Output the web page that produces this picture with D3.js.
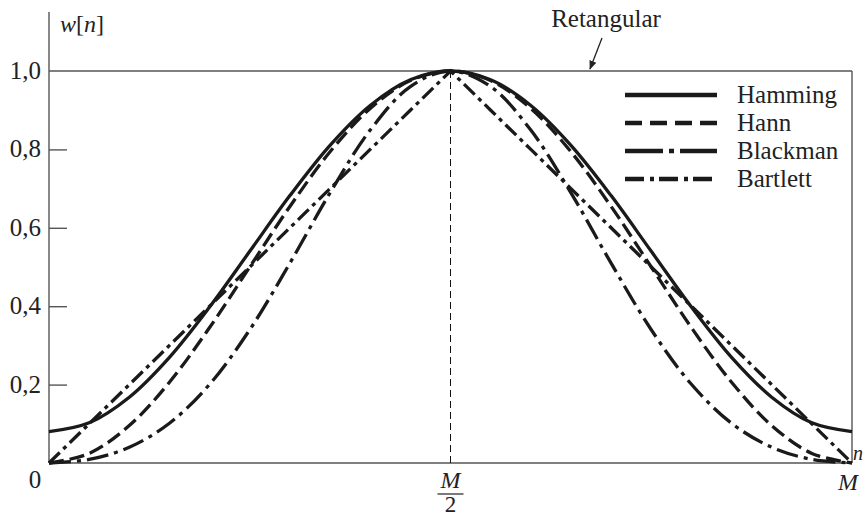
<!DOCTYPE html>
<html><head><meta charset="utf-8">
<script src="https://cdn.jsdelivr.net/npm/d3@7"></script>
<style>
body{margin:0;background:#fff;}
svg text{font-family:"Liberation Serif","DejaVu Serif","Times New Roman",Times,serif;fill:#222;}
</style></head>
<body><svg id="c" width="865" height="517"></svg>
<script>
// sample index n = 0..20 (M = 20)
const nIndex = [0,1,2,3,4,5,6,7,8,9,10,11,12,13,14,15,16,17,18,19,20];
const hamming = [0.08,0.1025,0.1679,0.2696,0.3979,0.54,0.6821,0.8104,0.9121,0.9775,1.0,0.9775,0.9121,0.8104,0.6821,0.54,0.3979,0.2696,0.1679,0.1025,0.08];
const hann = [0,0.0245,0.0955,0.2061,0.3455,0.5,0.6545,0.7939,0.9045,0.9755,1.0,0.9755,0.9045,0.7939,0.6545,0.5,0.3455,0.2061,0.0955,0.0245,0];
const blackman = [0,0.0092,0.0402,0.1014,0.2008,0.34,0.5098,0.6892,0.8492,0.9603,1.0,0.9603,0.8492,0.6892,0.5098,0.34,0.2008,0.1014,0.0402,0.0092,0];
const bartlett = [0,0.1,0.2,0.3,0.4,0.5,0.6,0.7,0.8,0.9,1.0,0.9,0.8,0.7,0.6,0.5,0.4,0.3,0.2,0.1,0];
const rectangular = [1,1];
const seriesNames = ["Hamming","Hann","Blackman","Bartlett"];
const yTicks = [0.2,0.4,0.6,0.8];
const yTickLabels = ["0,2","0,4","0,6","0,8"];

const FONT = "'Liberation Serif','DejaVu Serif','Times New Roman',serif";
const svg = d3.select("#c");
const x = d3.scaleLinear().domain([0,20]).range([49,852]);
const y = d3.scaleLinear().domain([0,1]).range([463,71]);
const axisColor = "#555";
function txt(px,py,s,size,anchor,italic){
  return svg.append("text").attr("x",px).attr("y",py).attr("font-family",FONT)
    .attr("font-size",size).attr("text-anchor",anchor||"start")
    .attr("font-style",italic?"italic":"normal").attr("fill","#222").text(s);
}

// axes
svg.append("line").attr("x1",49).attr("x2",49).attr("y1",12).attr("y2",y(0)).attr("stroke",axisColor).attr("stroke-width",1.4);
svg.append("line").attr("x1",49).attr("x2",x(20)).attr("y1",y(0)).attr("y2",y(0)).attr("stroke",axisColor).attr("stroke-width",1.4);
// rectangular window (box)
svg.append("line").attr("x1",x(0)).attr("x2",x(20)).attr("y1",y(rectangular[0])).attr("y2",y(rectangular[1])).attr("stroke",axisColor).attr("stroke-width",1.4);
svg.append("line").attr("x1",x(20)).attr("x2",x(20)).attr("y1",y(1)).attr("y2",y(0)).attr("stroke",axisColor).attr("stroke-width",1.4);

// y ticks inward
const yAxis = d3.axisRight(y).tickValues(yTicks).tickSize(18).tickFormat("");
const ga = svg.append("g").attr("transform","translate(49,0)").call(yAxis);
ga.select(".domain").remove();
ga.selectAll("line").attr("stroke",axisColor).attr("stroke-width",1.4);
yTicks.forEach((d,i)=>txt(41,y(d)+8,yTickLabels[i],25,"end"));
txt(41,y(1)+8,"1,0",25,"end");
txt(35,488,"0",25,"middle");

// y label
const wl = svg.append("text").attr("x",60).attr("y",32).attr("font-size",24).attr("font-family",FONT).attr("fill","#222");
wl.append("tspan").attr("font-style","italic").text("w");
wl.append("tspan").text("[");
wl.append("tspan").attr("font-style","italic").text("n");
wl.append("tspan").text("]");

// M/2 dashed line
svg.append("line").attr("x1",x(10)).attr("x2",x(10)).attr("y1",y(1)).attr("y2",y(0))
  .attr("stroke","#111").attr("stroke-width",1).attr("stroke-dasharray","7,4");
txt(x(10),488,"M",24,"middle",true);
svg.append("line").attr("x1",x(10)-13).attr("x2",x(10)+13).attr("y1",494).attr("y2",494).attr("stroke","#222").attr("stroke-width",1.2);
txt(x(10),512,"2",23,"middle");
txt(x(20)-4,490,"M",24,"middle",true);
txt(853,460,"n",20,"start",true);

// curves
const smooth = d3.line().x((d,i)=>x(nIndex[i])).y(d=>y(d)).curve(d3.curveCatmullRom);
const straight = d3.line().x((d,i)=>x(nIndex[i])).y(d=>y(d));
const dashes = ["", "15,6", "22,6,4,6", "15,5,4,5"];
const legendDashes = ["", "17,8", "38,6,5,6", "19,6,4,5"];
const data = [hamming, hann, blackman, bartlett];
data.forEach((s,k)=>{
  svg.append("path").attr("d",(k===3?straight:smooth)(s)).attr("fill","none")
    .attr("stroke","#1a1a1a").attr("stroke-width",3.3).attr("stroke-dasharray",dashes[k]||null);
});

// legend
seriesNames.forEach((name,i)=>{
  const yy = 95 + i*28;
  svg.append("line").attr("x1",625).attr("x2",717).attr("y1",yy).attr("y2",yy)
    .attr("stroke","#1a1a1a").attr("stroke-width",4.5).attr("stroke-dasharray",legendDashes[i]||null);
  txt(737,yy+8,name,25,"start");
});

// Retangular annotation
txt(606,27,"Retangular",25,"middle");
svg.append("defs").append("marker").attr("id","ah").attr("viewBox","0 0 10 10").attr("refX",9).attr("refY",5)
  .attr("markerWidth",7).attr("markerHeight",7).attr("orient","auto")
  .append("path").attr("d","M0,1 L10,5 L0,9 Z").attr("fill","#222");
svg.append("line").attr("x1",602).attr("y1",38).attr("x2",590).attr("y2",69)
  .attr("stroke","#222").attr("stroke-width",1.3).attr("marker-end","url(#ah)");
</script></body></html>
